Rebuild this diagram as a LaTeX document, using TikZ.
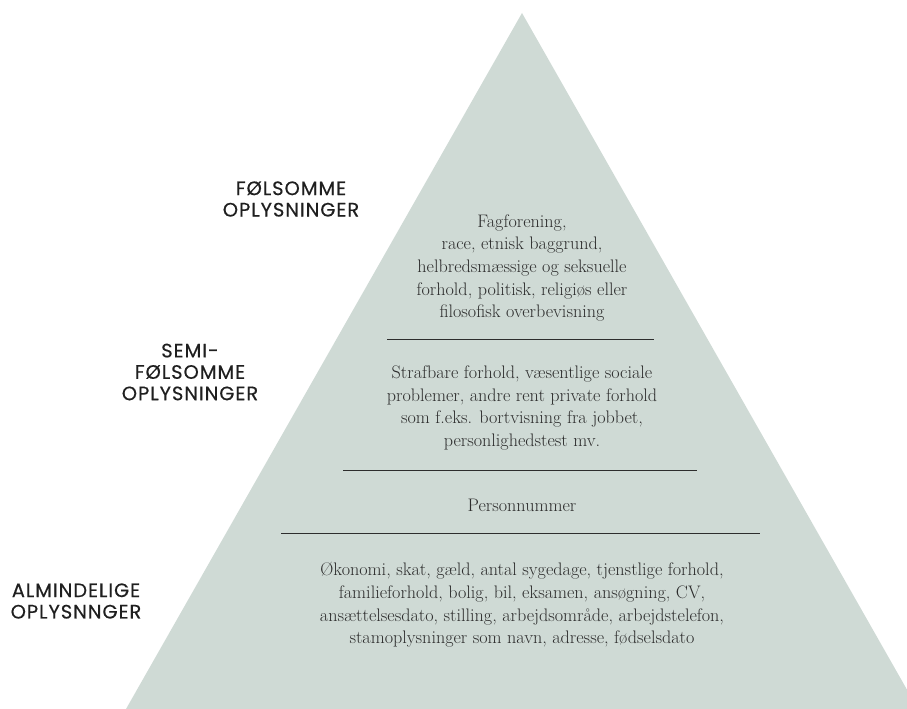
\documentclass[tikz,border=0pt]{standalone}
\usepackage{fontspec}
\usepackage{xcolor}
\usetikzlibrary{positioning}
\newfontfamily\levelfont[LetterSpace=5,FakeBold=0.4]{Poppins}

\definecolor{pyrgreen}{RGB}{207,218,213}
\definecolor{bodygray}{RGB}{45,45,45}

\begin{document}
\begin{tikzpicture}[x=1bp, y=-1bp,
    level/.style={align=center, text=black!88, font=\levelfont\fontsize{19.5}{21.5}\selectfont},
    info/.style={align=center, text=bodygray, font=\fontsize{18.2}{22.7}\selectfont},
    sep/.style={draw=bodygray, line width=1bp}]
  \useasboundingbox (0,0) rectangle (907,709);
  \clip (0,0) rectangle (907,709);

  % the pyramid
  \fill[pyrgreen] (522,13) -- (126,709) -- (918,709) -- cycle;

  % levels on the left
  \node[level] (fols) at (291,199) {FØLSOMME\\OPLYSNINGER};
  \node[level] (semi) at (190,372) {SEMI-\\FØLSOMME\\OPLYSNINGER};
  \node[level] (alm) at (76,601) {ALMINDELIGE\\OPLYSNNGER};

  % what goes in each layer
  \node[info] (top) at (522,268) {Fagforening,\\race, etnisk baggrund,\\helbredsmæssige og seksuelle\\forhold, politisk, religiøs eller\\filosofisk overbevisning};
  \node[info] (mid) at (522,408) {Strafbare forhold, væsentlige sociale\\problemer, andre rent private forhold\\som f.eks. bortvisning fra jobbet,\\personlighedstest mv.};
  \node[info] (cpr) at (522,505) {Personnummer};
  \node[info] (base) at (522,605) {Økonomi, skat, gæld, antal sygedage, tjenstlige forhold,\\familieforhold, bolig, bil, eksamen, ansøgning, CV,\\ansættelsesdato, stilling, arbejdsområde, arbejdstelefon,\\stamoplysninger som navn, adresse, fødselsdato};

  % dividers between the layers
  \coordinate (s1l) at (387,339);
  \coordinate (s1r) at (654,339);
  \coordinate (s2l) at (343,470);
  \coordinate (s2r) at (697,470);
  \coordinate (s3l) at (281,533);
  \coordinate (s3r) at (760,533);
  \draw[sep] (s1l) -- (s1r);
  \draw[sep] (s2l) -- (s2r);
  \draw[sep] (s3l) -- (s3r);
\end{tikzpicture}
\end{document}
